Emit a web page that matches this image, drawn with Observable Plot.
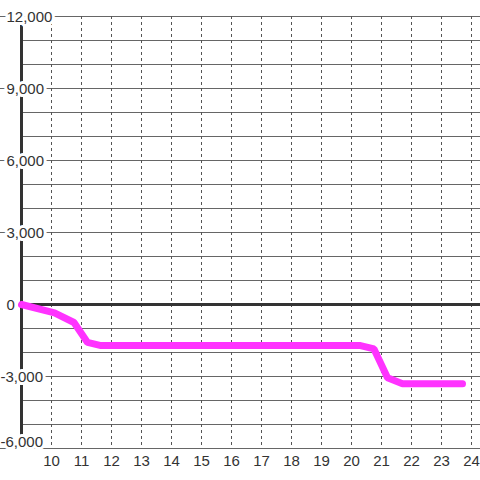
<!DOCTYPE html>
<html>
<head>
<meta charset="utf-8">
<script src="https://cdn.jsdelivr.net/npm/d3@7"></script>
<script src="https://cdn.jsdelivr.net/npm/@observablehq/plot@0.6"></script>
<style>
  html, body { margin: 0; padding: 0; background: #fff; }
</style>
</head>
<body>
<div id="chart"></div>
<script>
const hours  = [9, 10.1, 10.75, 11.2, 11.65, 20.3, 20.75, 21.2, 21.7, 23.7];
const values = [0, -350, -750, -1580, -1710, -1710, -1850, -3050, -3300, -3300];
const xTicks = [10, 11, 12, 13, 14, 15, 16, 17, 18, 19, 20, 21, 22, 23, 24];
const yGrid = [-5000, -4000, -3000, -2000, -1000, 1000, 2000, 3000, 4000, 5000, 6000, 7000, 8000, 9000, 10000, 11000, 12000];
const yLabels = [12000, 9000, 6000, 3000, 0, -3000, -6000];

const data = hours.map((h, i) => ({h, v: values[i]}));
const fmt = d3.format(",");
const labelStyle = {
  frameAnchor: "left", textAnchor: "start", lineAnchor: "middle", fill: "#333",
  stroke: "white", strokeWidth: 6, paintOrder: "stroke", fontSize: 15
};

const chart = Plot.plot({
  width: 480,
  height: 480,
  marginLeft: 21,
  marginRight: 0,
  marginTop: 16,
  marginBottom: 32,
  style: {fontFamily: "'Liberation Sans', Arial, sans-serif", fontSize: "15px", background: "#fff"},
  x: {domain: [9, 24.3], axis: null},
  y: {domain: [-6000, 12000], axis: null},
  marks: [
    Plot.ruleY(yGrid, {stroke: "#666", strokeWidth: 1}),
    Plot.ruleY(yLabels.filter(d => d !== 0), {stroke: "#666", strokeWidth: 1, insetLeft: -21}),
    Plot.ruleX(xTicks, {stroke: "#555", strokeWidth: 1, strokeDasharray: "3,3"}),
    Plot.ruleY([0], {stroke: "#333", strokeWidth: 3}),
    Plot.ruleX([9], {stroke: "#333", strokeWidth: 3}),
    Plot.text(yLabels.filter(d => d >= 0), {
      ...labelStyle, y: d => d, text: d => fmt(d), dx: -15, dy: 1
    }),
    Plot.text(yLabels.filter(d => d < 0 && d > -6000), {
      ...labelStyle, y: d => d, text: d => fmt(d).replace("−", "-"), dx: -21, dy: 1
    }),
    Plot.text(yLabels.filter(d => d === -6000), {
      ...labelStyle, y: d => d, text: d => fmt(d).replace("−", "-"), dx: -21, dy: -6
    }),
    Plot.text(xTicks, {
      x: d => d, text: d => String(d), frameAnchor: "bottom", dy: 13,
      lineAnchor: "middle", fill: "#333", fontSize: 15
    }),
    Plot.line(data, {x: "h", y: "v", stroke: "#ff33ff", strokeWidth: 7, strokeLinejoin: "miter", strokeLinecap: "round"})
  ]
});
document.getElementById("chart").appendChild(chart);
</script>
</body>
</html>
